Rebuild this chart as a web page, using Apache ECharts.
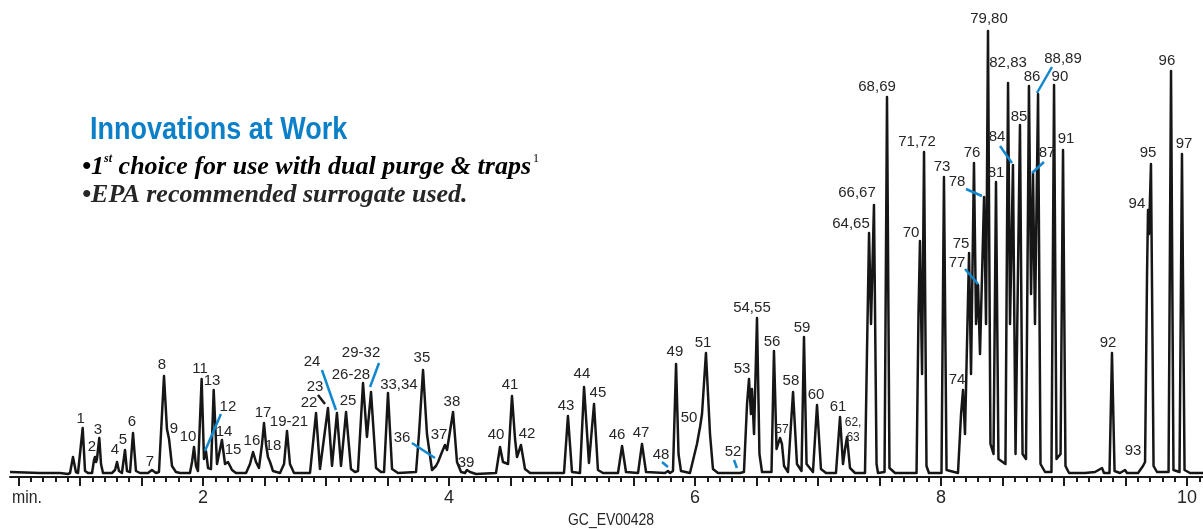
<!DOCTYPE html>
<html>
<head>
<meta charset="utf-8">
<script src="https://cdn.jsdelivr.net/npm/echarts@6/dist/echarts.min.js"></script>
<style>
  html, body { margin: 0; padding: 0; background: #ffffff; }
  #chart { width: 1203px; height: 529px; }
</style>
</head>
<body>
<div id="chart"></div>
<script>
// Chromatogram trace: retention time (min) and detector response of each vertex
const traceTime = [
  0.431, 0.675, 0.837, 0.902,
  0.919, 0.943, 0.967, 0.984,
  1.000, 1.022, 1.041, 1.065,
  1.098, 1.114, 1.122, 1.130, 1.138,
  1.157, 1.171, 1.187,
  1.260, 1.285, 1.301, 1.317,
  1.341, 1.366, 1.382,
  1.407, 1.431, 1.455, 1.488,
  1.553, 1.585, 1.618,
  1.642, 1.683, 1.707, 1.724, 1.748, 1.780, 1.813,
  1.894, 1.911, 1.927, 1.943,
  1.959, 1.989, 2.008,
  2.024, 2.041,
  2.065, 2.087, 2.114,
  2.130, 2.154, 2.179,
  2.203, 2.220, 2.236, 2.268,
  2.350, 2.382, 2.407, 2.431,
  2.455, 2.480, 2.496, 2.512, 2.528, 2.545, 2.569,
  2.626, 2.659, 2.683, 2.707, 2.740,
  2.870, 2.919, 2.951,
  2.967, 3.016, 3.049,
  3.089, 3.122,
  3.163, 3.203, 3.236,
  3.260, 3.301, 3.333,
  3.366, 3.407, 3.447,
  3.472, 3.504, 3.537, 3.585,
  3.732, 3.756, 3.789, 3.821, 3.862,
  3.894, 3.911,
  3.943, 3.967, 3.984,
  4.033, 4.065, 4.098,
  4.130, 4.146, 4.171, 4.220,
  4.382, 4.415, 4.439,
  4.480, 4.512, 4.537, 4.553,
  4.585, 4.618, 4.659,
  4.935, 4.967, 5.000,
  5.065, 5.098, 5.138,
  5.179, 5.211, 5.252,
  5.374, 5.407, 5.439,
  5.537, 5.569, 5.602,
  5.756, 5.780, 5.797,
  5.821, 5.846, 5.866, 5.886,
  5.959, 6.016, 6.041, 6.057, 6.089, 6.122, 6.146, 6.187,
  6.325, 6.341, 6.366,
  6.398, 6.423, 6.439, 6.455, 6.463, 6.480, 6.504, 6.524, 6.545,
  6.622, 6.642, 6.663,
  6.691, 6.707, 6.724,
  6.756, 6.797, 6.829,
  6.866, 6.886, 6.907,
  6.959, 6.992, 7.024, 7.065,
  7.146, 7.179, 7.203,
  7.220, 7.236, 7.260, 7.301,
  7.382, 7.398, 7.415, 7.431, 7.455, 7.476, 7.488,
  7.541, 7.561, 7.581, 7.626,
  7.801, 7.817, 7.829, 7.846, 7.862, 7.882, 7.902,
  8.004, 8.024, 8.045,
  8.138, 8.163, 8.179, 8.195,
  8.228, 8.244,
  8.268, 8.285,
  8.301, 8.317,
  8.350, 8.366,
  8.382, 8.402,
  8.427, 8.447, 8.467,
  8.524, 8.545, 8.561,
  8.585, 8.606,
  8.642, 8.663,
  8.691, 8.715, 8.732,
  8.748, 8.764,
  8.789, 8.809, 8.846,
  8.898, 8.919, 8.939,
  8.972, 8.992, 9.012, 9.041,
  9.171, 9.252, 9.309, 9.325,
  9.370, 9.390, 9.411, 9.455,
  9.496, 9.512, 9.602, 9.642, 9.659,
  9.675, 9.683, 9.691, 9.707, 9.728, 9.756,
  9.850, 9.870, 9.890,
  9.939, 9.959, 9.980, 10.024, 10.130
];
const traceResponse = [
  2, 1, 1, 0,
  1, 17, 2, 1,
  1, 46, 3, 1,
  1, 14, 17, 12, 15,
  36, 10, 1,
  1, 4, 12, 3,
  1, 24, 3,
  2, 41, 3, 1,
  1, 4, 1,
  2, 98, 45, 35, 8, 2, 1,
  1, 12, 27, 8,
  3, 95, 15,
  23, 6,
  5, 84, 10,
  8, 34, 10,
  12, 8, 4, 1,
  1, 10, 22, 12,
  6, 30, 51, 30, 17, 12, 3,
  1, 10, 43, 10, 1,
  1, 61, 5,
  3, 66, 8,
  61, 8,
  62, 5, 2,
  3, 91, 37,
  82, 6, 2,
  2, 81, 5, 1,
  2, 40, 104, 40, 4,
  8, 12,
  22, 29, 24,
  62, 12, 2,
  1, 4, 2, 0,
  1, 27, 12,
  10, 78, 35, 17,
  29, 5, 1,
  1, 58, 2,
  1, 87, 11,
  70, 4, 1,
  1, 28, 2,
  1, 30, 2,
  1, 3, 1,
  3, 110, 20, 3,
  1, 30, 47, 60, 121, 40, 5, 1,
  1, 3, 1,
  2, 70, 95, 60, 85, 40, 156, 20, 2,
  2, 123, 25,
  36, 30, 8,
  2, 82, 10,
  3, 137, 10,
  2, 69, 5, 1,
  1, 57, 10,
  25, 37, 6, 1,
  1, 120, 241, 150, 269, 10, 1,
  2, 377, 6, 1,
  1, 160, 233, 100, 322, 8, 1,
  1, 297, 4,
  1, 60, 84, 40,
  221, 100,
  311, 150,
  189, 120,
  277, 150,
  443, 30,
  20, 292, 15,
  10, 391, 150,
  309, 20,
  349, 20,
  15, 388, 180,
  301, 150,
  380, 10, 2,
  2, 389, 15,
  20, 324, 8, 1,
  1, 2, 6, 1,
  1, 121, 3, 1,
  4, 1, 1, 8, 12,
  200, 264, 240, 310, 8, 2,
  2, 403, 4,
  2, 320, 4, 1, 1
];

// Peak identifications and where each number is written
const peakNames = [
  '1', '2', '3', '4', '5', '6', '7', '8', '9', '10',
  '11', '12', '13', '14', '15', '16', '17', '18', '19-21', '22',
  '23', '24', '25', '26-28', '29-32', '33,34', '35', '36', '37', '38',
  '39', '40', '41', '42', '43', '44', '45', '46', '47', '48',
  '49', '50', '51', '52', '53', '54,55', '56', '57', '58', '59',
  '60', '61', '62,\n63', '64,65', '66,67', '68,69', '70', '71,72', '73', '74',
  '75', '76', '77', '78', '79,80', '81', '82,83', '84', '85', '86',
  '87', '88,89', '90', '91', '92', '93', '94', '95', '96', '97'
];
const labelTime = [
  1.006, 1.098, 1.146, 1.285, 1.350, 1.423, 1.569, 1.667, 1.764, 1.878,
  1.976, 2.203, 2.073, 2.171, 2.244, 2.398, 2.488, 2.569, 2.699, 2.862,
  2.911, 2.886, 3.179, 3.203, 3.285, 3.593, 3.780, 3.618, 3.919, 4.024,
  4.138, 4.382, 4.496, 4.634, 4.951, 5.081, 5.211, 5.366, 5.561, 5.724,
  5.837, 5.951, 6.065, 6.309, 6.382, 6.463, 6.626, 6.707, 6.780, 6.870,
  6.984, 7.163, 7.285, 7.268, 7.317, 7.480, 7.756, 7.805, 8.008, 8.130,
  8.163, 8.252, 8.130, 8.130, 8.390, 8.447, 8.545, 8.455, 8.634, 8.740,
  8.862, 8.992, 8.967, 9.016, 9.358, 9.561, 9.593, 9.683, 9.837, 9.976
];
const labelResponse = [
  55, 27, 44, 24, 34, 52, 12, 109, 45, 37,
  105, 67, 93, 42, 24, 33, 61, 28, 52, 71,
  87, 112, 73, 99, 121, 89, 116, 36, 39, 72,
  11, 39, 89, 40, 68, 100, 81, 39, 41, 19,
  122, 56, 131, 22, 105, 166, 132, 44, 93, 146,
  79, 67, 44, 250, 281, 387, 241, 332, 307, 94,
  230, 321, 211, 292, 455, 301, 411, 337, 357, 397,
  321, 415, 397, 335, 131, 23, 270, 321, 413, 330
];
const smallLabels = ['57', '62,\n63'];

// Leader lines from a label to its peak: [time, response] at each end
const leaderFrom = [
  [2.146, 60], [2.967, 104], [2.935, 79], [3.431, 111], [3.699, 31],
  [5.732, 12], [6.317, 14], [8.195, 205], [8.203, 285], [8.480, 328],
  [8.902, 407], [8.837, 312]
];
const leaderTo = [
  [2.016, 23], [3.081, 64], [2.992, 70], [3.358, 87], [3.886, 16],
  [5.780, 7], [6.341, 6], [8.301, 190], [8.333, 278], [8.577, 311],
  [8.780, 381], [8.740, 301]
];
const leaderColor = [
  '#1187d0', '#1187d0', '#1a1a1a', '#1187d0', '#1187d0',
  '#1187d0', '#1187d0', '#1187d0', '#1187d0', '#1187d0',
  '#1187d0', '#1187d0'
];

// Time axis ticks (min)
const axisLabels = [2, 4, 6, 8, 10];
const majorTicks = [];
for (let i = 1; i <= 20; i++) majorTicks.push(i * 0.5);
const minorTicks = [];
for (let i = 5; i <= 101; i++) minorTicks.push(+(i * 0.1).toFixed(1));

const tMin = 0.431, tMax = 10.13;
const sans = '"Liberation Sans", Arial, sans-serif';
const serif = '"Liberation Serif", "Times New Roman", serif';
const ink = '#262626';

const chart = echarts.init(document.getElementById('chart'), null, { renderer: 'canvas' });

const option = {
  animation: false,
  backgroundColor: '#ffffff',
  grid: { left: 10, right: 0, top: 0, bottom: 52, containLabel: false },
  xAxis: [
    {
      type: 'value', min: tMin, max: tMax, position: 'bottom',
      axisLine: { show: true, onZero: false, lineStyle: { color: '#1a1a1a', width: 2 } },
      axisTick: { show: true, customValues: majorTicks, length: 9, lineStyle: { color: '#1a1a1a', width: 2 } },
      axisLabel: {
        show: true, customValues: axisLabels, margin: 12,
        fontSize: 18, fontFamily: sans, color: ink,
        formatter: v => String(v)
      },
      splitLine: { show: false }
    },
    {
      type: 'value', min: tMin, max: tMax, position: 'bottom', offset: 0,
      axisLine: { show: false, onZero: false },
      axisTick: { show: true, customValues: minorTicks, length: 5, lineStyle: { color: '#1a1a1a', width: 2 } },
      axisLabel: { show: false },
      splitLine: { show: false }
    }
  ],
  yAxis: { type: 'value', min: -3, max: 474, show: false },
  graphic: [
    {
      type: 'text', x: 12, y: 498, scaleX: 0.88, silent: true,
      style: { text: 'min.', fontSize: 18, fontFamily: sans, fill: ink, textAlign: 'left', textVerticalAlign: 'middle' }
    },
    {
      type: 'text', x: 611, y: 520, scaleX: 0.82, silent: true,
      style: { text: 'GC_EV00428', fontSize: 17, fontFamily: sans, fill: ink, textAlign: 'center', textVerticalAlign: 'middle' }
    },
    {
      type: 'text', x: 90, y: 130, scaleX: 0.87, silent: true,
      style: { text: 'Innovations at Work', fontSize: 31, fontWeight: 'bold', fontFamily: sans, fill: '#0b7fc7', textAlign: 'left', textVerticalAlign: 'middle' }
    },
    {
      type: 'text', x: 82, y: 167, silent: true,
      style: {
        text: '{b|•1}{s|st}{b| choice for use with dual purge & traps}{n|1}',
        textAlign: 'left', textVerticalAlign: 'middle',
        rich: {
          b: { fontSize: 26, fontFamily: serif, fontWeight: 'bold', fontStyle: 'italic', color: ink, lineHeight: 28 },
          s: { fontSize: 12, fontFamily: serif, fontWeight: 'bold', fontStyle: 'italic', color: ink, verticalAlign: 'top', lineHeight: 28 },
          n: { fontSize: 12, fontFamily: serif, color: ink, verticalAlign: 'top', lineHeight: 28, padding: [0, 0, 0, 2] }
        }
      }
    },
    {
      type: 'text', x: 82, y: 195, silent: true,
      style: { text: '•EPA recommended surrogate used.', fontSize: 26, fontWeight: 'bold', fontStyle: 'italic', fontFamily: serif, fill: ink, textAlign: 'left', textVerticalAlign: 'middle' }
    }
  ],
  series: [
    {
      name: 'trace', type: 'line', xAxisIndex: 0, yAxisIndex: 0,
      data: traceTime.map((t, i) => [t, traceResponse[i]]),
      showSymbol: false, symbol: 'none', smooth: false, silent: true,
      lineStyle: { color: '#161616', width: 2.5, join: 'round' },
      z: 2
    },
    {
      name: 'leaders', type: 'lines', coordinateSystem: 'cartesian2d', xAxisIndex: 0, yAxisIndex: 0,
      silent: true, z: 3,
      data: leaderFrom.map((p, i) => ({
        coords: [p, leaderTo[i]],
        lineStyle: { color: leaderColor[i], width: 2.5, opacity: 1, curveness: 0 }
      }))
    },
    {
      name: 'peak ids', type: 'scatter', xAxisIndex: 0, yAxisIndex: 0,
      symbolSize: 0, itemStyle: { color: ink, opacity: 1 }, silent: true, z: 4,
      data: peakNames.map((n, i) => ({
        name: n, value: [labelTime[i], labelResponse[i]],
        label: smallLabels.includes(n) ? { fontSize: 12, lineHeight: 15 } : {}
      })),
      label: {
        show: true, position: 'inside', formatter: p => p.name,
        fontSize: 15, fontFamily: sans, color: ink, opacity: 1, textBorderWidth: 0
      },
      labelLayout: { hideOverlap: false },
      emphasis: { disabled: true }
    }
  ]
};
chart.setOption(option);
</script>
</body>
</html>
